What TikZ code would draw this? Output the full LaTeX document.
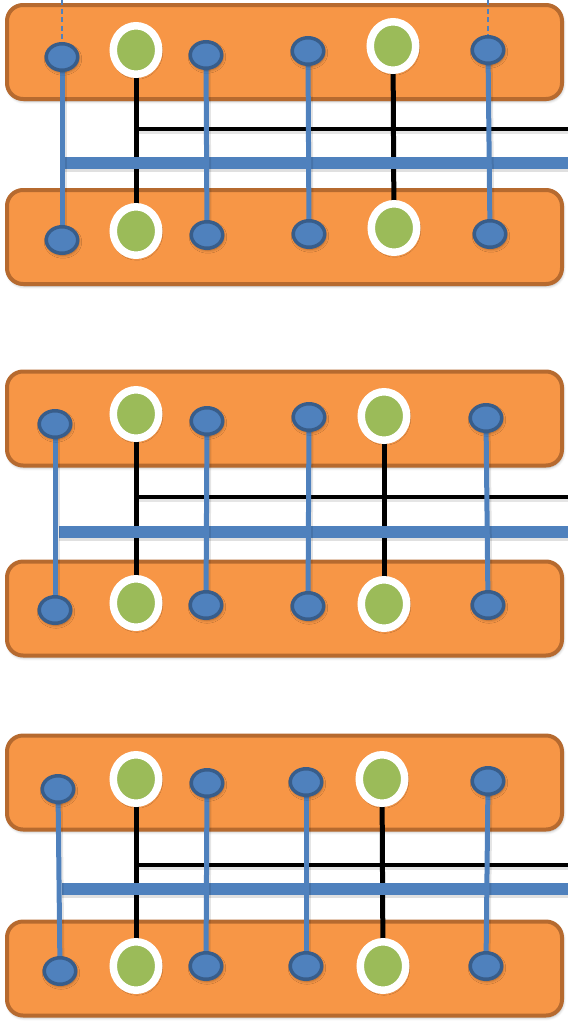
\documentclass[tikz,border=0pt]{standalone}
\usetikzlibrary{shapes.geometric,shadows.blur}
\definecolor{orangefill}{HTML}{F79646}
\definecolor{orangeedge}{HTML}{B66A2F}
\definecolor{bluefill}{HTML}{4F81BD}
\definecolor{blueedge}{HTML}{385D8A}
\definecolor{greenfill}{HTML}{9BBB59}
\tikzset{
  soft/.style={blur shadow={shadow xshift=1pt, shadow yshift=-2pt, shadow blur radius=3pt, shadow opacity=35}},
  panel/.style={rectangle, rounded corners=16pt, draw=orangeedge, fill=orangefill,
    line width=4pt, minimum width=555pt, minimum height=94pt, inner sep=0pt, soft},
  port/.style={ellipse, draw=blueedge, fill=bluefill, line width=3.5pt,
    minimum width=31.5pt, minimum height=26.5pt, inner sep=0pt, soft},
  pin/.style={ellipse, draw=white, fill=greenfill, line width=7.5pt,
    minimum width=45.5pt, minimum height=48.5pt, inner sep=0pt, soft},
  link/.style={draw=bluefill, line width=5pt},
  linkshade/.style={draw=black, opacity=0.10, line width=5pt},
  wire/.style={draw=black, line width=5pt},
  hwire/.style={draw=black, line width=4pt},
  bus/.style={draw=bluefill, line width=12pt},
  tap/.style={draw=bluefill, line width=1.4pt, dash pattern=on 5pt off 3.5pt},
}
\begin{document}
\begin{tikzpicture}[x=1pt,y=-1pt]
\useasboundingbox (0,0) rectangle (568,1023);

% ---------- board outlines ----------
\node[panel] (P1t) at (284.5,52) {};
\node[panel] (P1b) at (284.5,237) {};
\node[panel] (P2t) at (284.5,418.5) {};
\node[panel] (P2b) at (284.5,608.5) {};
\node[panel] (P3t) at (284.5,782.5) {};
\node[panel] (P3b) at (284.5,968.5) {};

% ---------- contact positions ----------
% group 1
\coordinate (a1t) at (62,57);   \coordinate (a1b) at (62,240);
\coordinate (g1t) at (136,50);  \coordinate (g1b) at (136,231);
\coordinate (b1t) at (206,55);  \coordinate (b1b) at (207,235);
\coordinate (c1t) at (308,51);  \coordinate (c1b) at (309,234);
\coordinate (h1t) at (393,46);  \coordinate (h1b) at (394,228);
\coordinate (d1t) at (488,50);  \coordinate (d1b) at (490,234);
\coordinate (k1) at (568,129);  \coordinate (s1) at (568,163);
\coordinate (e1) at (62,163);
\coordinate (u1) at (62,0);     \coordinate (v1) at (488,0);
% group 2
\coordinate (a2t) at (55,424);  \coordinate (a2b) at (55,610);
\coordinate (g2t) at (136,414); \coordinate (g2b) at (136,603);
\coordinate (b2t) at (207,421); \coordinate (b2b) at (206,605);
\coordinate (c2t) at (309,417); \coordinate (c2b) at (308,606);
\coordinate (h2t) at (384,416); \coordinate (h2b) at (384,604);
\coordinate (d2t) at (486,418); \coordinate (d2b) at (488,605);
\coordinate (k2) at (568,497);  \coordinate (s2) at (568,532);
\coordinate (e2) at (59,532);
% group 3
\coordinate (a3t) at (58,789);  \coordinate (a3b) at (60,971);
\coordinate (g3t) at (136,779); \coordinate (g3b) at (136,966);
\coordinate (b3t) at (207,783); \coordinate (b3b) at (206,966);
\coordinate (c3t) at (306,782); \coordinate (c3b) at (306,966);
\coordinate (h3t) at (382,779); \coordinate (h3b) at (383,966);
\coordinate (d3t) at (488,781); \coordinate (d3b) at (486,966);
\coordinate (k3) at (568,865);  \coordinate (s3) at (568,889);
\coordinate (e3) at (62,889);

% ---------- black signal wires ----------
\foreach \n in {1,2,3} {
  \draw[black, opacity=0.10, line width=4pt] ([yshift=-3pt]g\n t |- k\n) -- ([yshift=-3pt]k\n);
  \draw[hwire] (g\n t |- k\n) -- (k\n);
  \draw[wire] (g\n t) -- (g\n b);
  \draw[wire] (h\n t) -- (h\n b);
}

% ---------- blue buses ----------
\foreach \n in {1,2,3} {
  \fill[black, opacity=0.12] ([yshift=-4pt]e\n) rectangle ([yshift=-9pt]s\n);
  \draw[bus] (e\n) -- (s\n);
}

% ---------- blue links between boards ----------
\foreach \n in {1,2,3} {
  \foreach \p in {a,b,c,d} {
    \draw[linkshade] ([xshift=2pt]\p\n t) -- ([xshift=2pt]\p\n b);
    \draw[link] (\p\n t) -- (\p\n b);
  }
}
\draw[tap] (u1) -- (a1t);
\draw[tap] (v1) -- (d1t);

% ---------- contacts ----------
\foreach \n in {1,2,3} {
  \foreach \s in {t,b} {
    \foreach \p in {a,b,c,d} {
      \node[port] (\p\n\s-c) at (\p\n\s) {};
    }
    \node[pin] (g\n\s-c) at (g\n\s) {};
    \node[pin] (h\n\s-c) at (h\n\s) {};
  }
}
\end{tikzpicture}
\end{document}
